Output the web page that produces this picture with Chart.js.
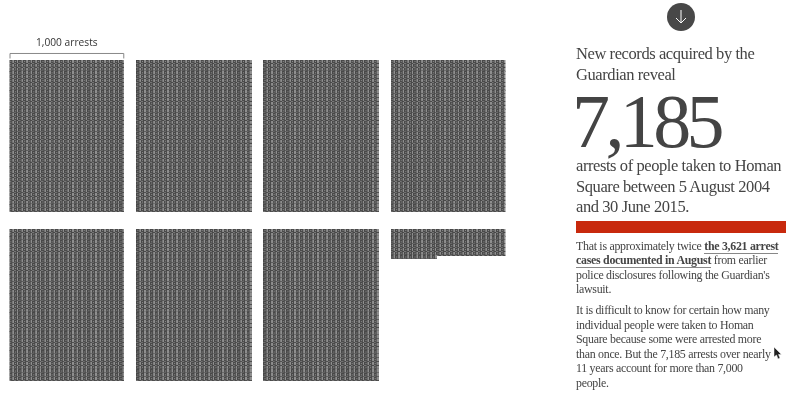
<!DOCTYPE html>
<html>
<head>
<meta charset="utf-8">
<script src="https://cdn.jsdelivr.net/npm/chart.js@4"></script>
<style>
html, body { margin: 0; padding: 0; background: #fff; width: 800px; height: 395px; overflow: hidden; }
#wrap { position: relative; width: 800px; height: 395px; }
canvas { position: absolute; left: 0; top: 0; }
.t { position: absolute; white-space: nowrap; font-family: "Liberation Serif", serif; color: #444; line-height: 1; }
.lead { font-size: 16.5px; left: 576px; letter-spacing: -0.42px; }
.body { font-size: 11.9px; left: 576px; letter-spacing: -0.28px; color: #444; }
.body b { font-weight: bold; border-bottom: 1px solid #888; }
</style>
</head>
<body>
<div id="wrap">
  <canvas id="unitChart" width="800" height="395"></canvas>
  <div class="t" style="left:36px;top:37px;font-family:'Open Sans',sans-serif;font-size:10.2px;color:#333">1,000 arrests</div>

  <svg style="position:absolute;left:667px;top:3px" width="28" height="28">
    <circle cx="14" cy="14" r="14" fill="#484848"/>
    <path d="M14 7V20M9 15L14 20L19 15" stroke="#fff" stroke-width="1" fill="none"/>
  </svg>

  <div class="t lead" style="top:46px">New records acquired by the</div>
  <div class="t lead" style="top:67px">Guardian reveal</div>
  <div class="t" style="left:572px;top:83px;font-size:76px;letter-spacing:-4.6px">7,185</div>
  <div class="t lead" style="top:158px">arrests of people taken to Homan</div>
  <div class="t lead" style="top:179px">Square between 5 August 2004</div>
  <div class="t lead" style="top:199px">and 30 June 2015.</div>

  <div style="position:absolute;left:576px;top:221px;width:210px;height:12px;background:#c8290d"></div>

  <div class="t body" style="top:241px">That is approximately twice <b>the 3,621 arrest</b></div>
  <div class="t body" style="top:255px"><b>cases documented in August</b> from earlier</div>
  <div class="t body" style="top:270px">police disclosures following the Guardian's</div>
  <div class="t body" style="top:284px">lawsuit.</div>
  <div class="t body" style="top:305px">It is difficult to know for certain how many</div>
  <div class="t body" style="top:320px">individual people were taken to Homan</div>
  <div class="t body" style="top:334px">Square because some were arrested more</div>
  <div class="t body" style="top:349px">than once. But the 7,185 arrests over nearly</div>
  <div class="t body" style="top:363px">11 years account for more than 7,000</div>
  <div class="t body" style="top:378px">people.</div>

  <svg style="position:absolute;left:773px;top:347px" width="9" height="13">
    <path d="M1 0V10L3.5 8L5 12L7 11L5.5 7.5H8.5Z" fill="#222" stroke="#fff" stroke-width="0.5"/>
  </svg>
</div>

<script>
// one entry per block, each block is a grid of single arrests
const blockCounts = [1000, 1000, 1000, 1000, 1000, 1000, 1000, 185];
const blocksPerRow = 4;
const colsPerBlock = 25;
const rowsPerBlock = 40;
const gapCols = 2.68;
const gapRows = 4.47;

const points = [];
blockCounts.forEach(function(count, b) {
    const ox = (b % blocksPerRow) * (colsPerBlock + gapCols);
    const oy = Math.floor(b / blocksPerRow) * (rowsPerBlock + gapRows);
    for (let i = 0; i < count; i++) {
        points.push({
            x: ox + (i % colsPerBlock) + 0.5,
            y: oy + Math.floor(i / colsPerBlock) + 0.5
        });
    }
});

// tiny stand-in for the dense little record glyph
const glyph = document.createElement('canvas');
glyph.width = 5;
glyph.height = 4;
const g = glyph.getContext('2d');
g.fillStyle = '#484848';
g.fillRect(0, 0, 5, 4);
g.fillStyle = '#8f8f8f';
g.fillRect(3, 0, 2, 3);
g.fillRect(1, 1, 1, 1);
g.fillStyle = '#777';
g.fillRect(0, 3, 2, 1);

const bracket = {
    id: 'bracket',
    afterDatasetsDraw(chart) {
        const x = chart.scales.x, y = chart.scales.y, ctx = chart.ctx;
        const left = x.getPixelForValue(0) + 0.5;
        const right = x.getPixelForValue(colsPerBlock) - 0.5;
        const top = y.getPixelForValue(-1.85);
        const bottom = y.getPixelForValue(-0.4);
        ctx.save();
        ctx.strokeStyle = '#888';
        ctx.lineWidth = 1;
        ctx.beginPath();
        ctx.moveTo(left, bottom);
        ctx.lineTo(left, top + 0.5);
        ctx.lineTo(right, top + 0.5);
        ctx.lineTo(right, bottom);
        ctx.stroke();
        ctx.restore();
    }
};

new Chart(document.getElementById('unitChart').getContext('2d'), {
    type: 'scatter',
    data: {
        datasets: [{
            label: 'Arrests',
            data: points,
            pointStyle: glyph,
            pointRadius: 2,
            pointHoverRadius: 2
        }]
    },
    options: {
        responsive: false,
        animation: false,
        layout: { padding: { left: 9.5, right: 294.5, top: 60, bottom: 14 } },
        scales: {
            x: { display: false, min: 0, max: blocksPerRow * colsPerBlock + (blocksPerRow - 1) * gapCols },
            y: { display: false, reverse: true, min: 0, max: 2 * rowsPerBlock + gapRows }
        },
        plugins: {
            legend: { display: false },
            tooltip: { enabled: false }
        }
    },
    plugins: [bracket]
});
</script>
</body>
</html>
